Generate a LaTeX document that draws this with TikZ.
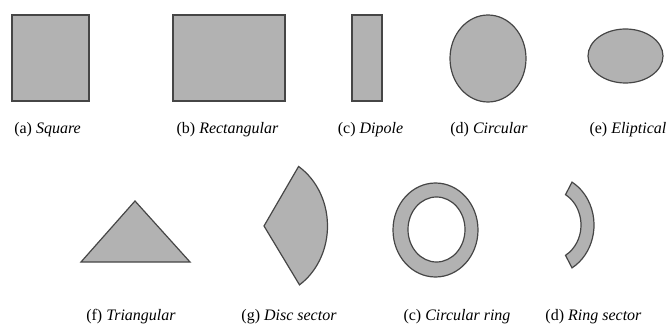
\documentclass[tikz,border=0pt]{standalone}
\usepackage{fontspec}
\setmainfont{Liberation Serif}
\usepackage{tikz}
\tikzset{every picture/.style={line width=0.75pt}}

\begin{document}
\begin{tikzpicture}[x=0.75pt,y=0.75pt,yscale=-1,xscale=1,
  patch/.style={draw={rgb, 255:red, 70; green, 70; blue, 70 },fill={rgb, 255:red, 178; green, 178; blue, 178 },line width=0.9pt},
  caption/.style={inner sep=0.75pt,font=\fontsize{12}{14}\selectfont}]
\useasboundingbox (0,0) rectangle (671,324);

%Shapes: first row
\draw [patch]   (12,15) rectangle (89,101) ;
\draw [patch]   (173,15) rectangle (285,101) ;
\draw [patch]   (352,15) rectangle (382,101) ;
\draw [patch]   (488,58.5) ellipse (38 and 43.5) ;
\draw [patch]   (625.5,56) ellipse (37.5 and 27) ;
%Shapes: second row
\draw [patch]   (81,262) -- (135,201) -- (190,262) -- cycle ;
\draw [patch]   (264,226) -- ++(-57:63.5 and 71) arc (-57:56:63.5 and 71) -- cycle ;
\draw [patch,even odd rule]   (435.5,230) ellipse (42.5 and 47) (436.5,229.5) ellipse (28.5 and 32.5) ;
\draw [patch]   (550,225) ++(-60:31 and 35) arc (-60:60:31 and 35) -- ++(60:13 and 14.5) arc (60:-60:44 and 49.5) -- cycle ;

% Text Node
\node [caption] (lblA) at (47.5,130) {(a) \textit{Square}};
\node [caption] (lblB) at (227.5,130) {(b) \textit{Rectangular}};
\node [caption] (lblC) at (370.5,130) {(c) \textit{Dipole}};
\node [caption] (lblD) at (489,130) {(d) \textit{Circular}};
\node [caption,anchor=west] (lblE) at (588,130) {(e) \textit{Eliptical}};
% Text Node
\node [caption] (lblF) at (131,317) {(f) \textit{Triangular}};
\node [caption] (lblG) at (289,317) {(g) \textit{Disc sector}};
\node [caption] (lblH) at (457,317) {(c) \textit{Circular ring}};
\node [caption] (lblI) at (593.5,317) {(d) \textit{Ring sector}};
\end{tikzpicture}
\end{document}
